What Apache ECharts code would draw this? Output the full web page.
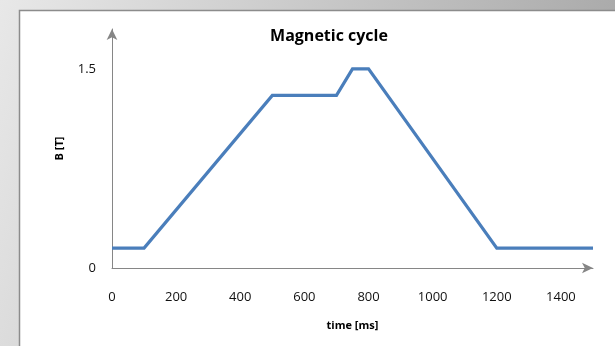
<!DOCTYPE html>
<html>
<head>
<meta charset="utf-8">
<script src="https://cdn.jsdelivr.net/npm/echarts@6/dist/echarts.min.js"></script>
<style>
html,body{margin:0;padding:0;background:#fff;}
#c{width:615px;height:346px;}
</style>
</head>
<body>
<div id="c"></div>
<script>
// Data
const timeMs = [0, 100, 500, 700, 750, 800, 1200, 1500];
const fieldT = [0.15, 0.15, 1.3, 1.3, 1.5, 1.5, 0.15, 0.15];
const xTickLabels = [0, 200, 400, 600, 800, 1000, 1200, 1400];
const yTickLabels = [0, 1.5];

const chart = echarts.init(document.getElementById('c'), null, {renderer: 'canvas'});
const font = 'Open Sans, Liberation Sans, sans-serif';
chart.setOption({
  animation: false,
  backgroundColor: 'transparent',
  graphic: [
    {
      type: 'rect', z: -10, silent: true,
      shape: {x: 0, y: 0, width: 615, height: 346},
      style: {fill: new echarts.graphic.LinearGradient(0, 0, 1, 0.6, [
        {offset: 0, color: '#e8e8e8'},
        {offset: 1, color: '#a4a4a4'}
      ])}
    },
    {
      type: 'rect', z: -9, silent: true,
      shape: {x: 19.5, y: 10.5, width: 600, height: 340},
      style: {fill: '#ffffff', stroke: '#8c8c8c', lineWidth: 1.5}
    }
  ],
  title: {
    text: 'Magnetic cycle',
    left: 324, top: 23, textAlign: 'center',
    textStyle: {fontFamily: font, fontWeight: 'bold', fontSize: 16, color: '#000'}
  },
  grid: {left: 112, right: 22, top: 29, bottom: 78},
  xAxis: {
    type: 'value', min: 0, max: 1500, interval: 200,
    name: 'time [ms]', nameLocation: 'middle', nameGap: 52,
    nameTextStyle: {fontFamily: font, fontWeight: 'bold', fontSize: 11, color: '#000'},
    axisLine: {show: true, lineStyle: {color: '#868686', width: 1}, symbol: ['none', 'arrow'], symbolSize: [8, 11]},
    axisTick: {show: false},
    splitLine: {show: false},
    axisLabel: {
      margin: 23, fontFamily: font, fontSize: 13, color: '#111',
      showMaxLabel: false,
      formatter: v => xTickLabels.includes(v) ? String(v) : ''
    }
  },
  yAxis: {
    type: 'value', min: 0, max: 1.8, interval: 1.5,
    name: 'B [T]', nameLocation: 'middle', nameGap: 47, nameRotate: 90,
    nameTextStyle: {fontFamily: font, fontWeight: 'bold', fontSize: 11, color: '#000'},
    axisLine: {show: true, lineStyle: {color: '#868686', width: 1}, symbol: ['none', 'arrow'], symbolSize: [8, 11]},
    axisTick: {show: false},
    splitLine: {show: false},
    axisLabel: {
      margin: 16, fontFamily: font, fontSize: 13, color: '#111',
      showMaxLabel: false,
      formatter: v => yTickLabels.some(t => Math.abs(t - v) < 1e-9) ? String(v) : ''
    }
  },
  series: [{
    type: 'line',
    data: timeMs.map((t, i) => [t, fieldT[i]]),
    showSymbol: false,
    symbol: 'none',
    lineStyle: {color: '#4a7ebb', width: 3.2, join: 'miter'},
    clip: false
  }]
});
</script>
</body>
</html>
